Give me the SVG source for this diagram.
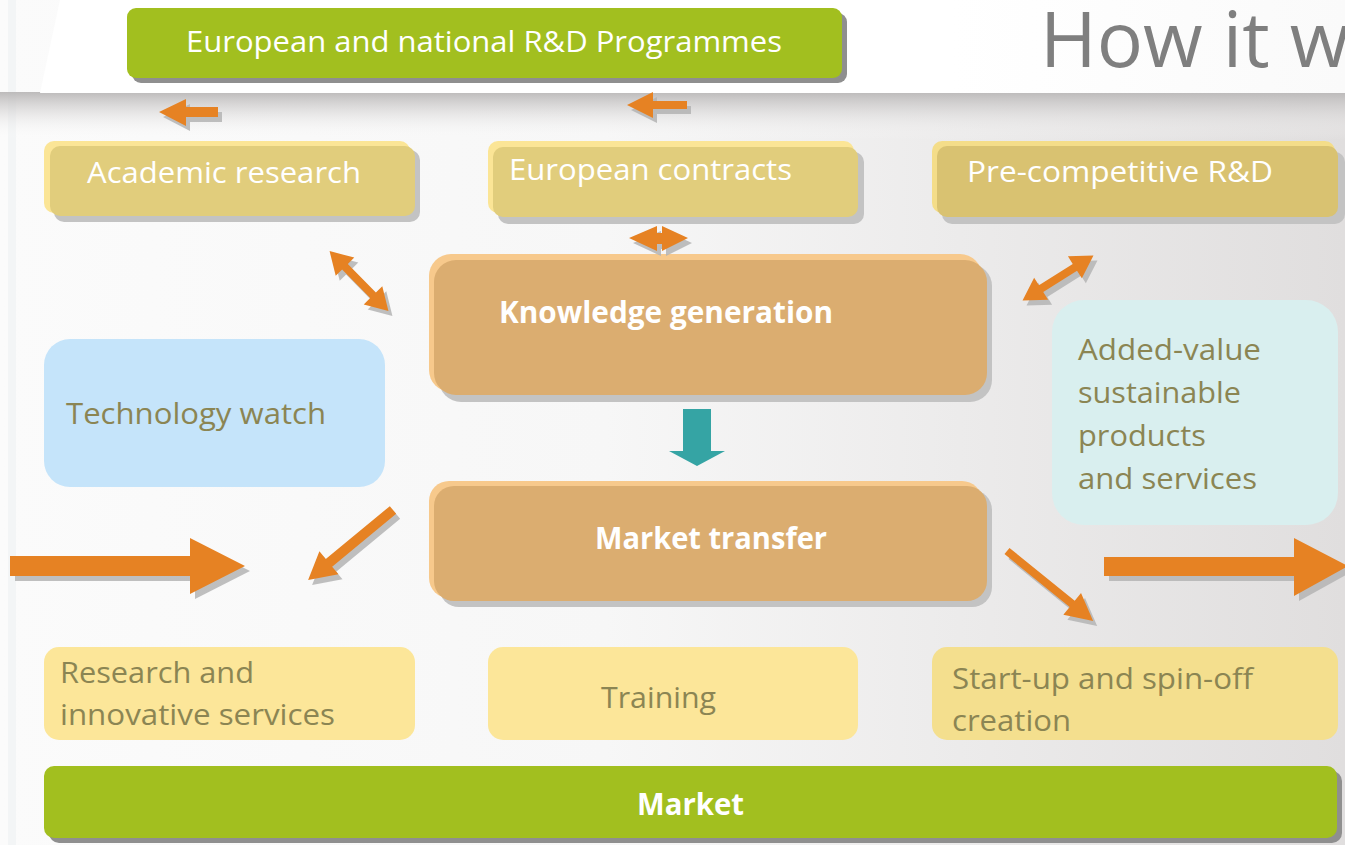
<svg xmlns="http://www.w3.org/2000/svg" width="1345" height="845" viewBox="0 0 1345 845">
<defs>
<linearGradient id="bg" x1="0" y1="0" x2="1" y2="0">
<stop offset="0" stop-color="#fbfbfb"/><stop offset="0.45" stop-color="#f7f7f7"/><stop offset="1" stop-color="#e0dede"/>
</linearGradient>
<linearGradient id="band" x1="0" y1="0" x2="0" y2="1">
<stop offset="0" stop-color="#b9b7b7" stop-opacity="0.95"/><stop offset="0.35" stop-color="#cfcdcd" stop-opacity="0.6"/><stop offset="1" stop-color="#ffffff" stop-opacity="0"/>
</linearGradient>
<linearGradient id="hdr" x1="0" y1="0" x2="1" y2="0">
<stop offset="0" stop-color="#ffffff"/><stop offset="0.7" stop-color="#ffffff"/><stop offset="1" stop-color="#fafafa"/>
</linearGradient>
<style>
.t{font-family:"Open Sans","Noto Sans","Liberation Sans",sans-serif;font-size:30px}
.w{fill:#ffffff}
.o{fill:#8b8553}
.b{font-weight:bold}
.arr{fill:#e68223}
.sh{fill:#b4b4b4;opacity:0.85}
.boxsh{fill:#c3c3c3}
.ylight{fill:#fbe596}
.ymain{fill:#e1cd7c}
.olight{fill:#f7c98c}
.omain{fill:#dbad70}
.green{fill:#a2bf1f}
.gsh{fill:#8f8f8f}
.pale{fill:#fce699}
</style>
</defs>

<!-- background -->
<rect x="0" y="0" width="1345" height="845" fill="url(#bg)"/>
<rect x="8" y="0" width="8" height="845" fill="#eef2f4" opacity="0.6"/>
<rect x="0" y="92" width="1345" height="48" fill="url(#band)"/>
<polygon points="60,0 1345,0 1345,93 40,93" fill="url(#hdr)"/>

<text x="1040" y="67" font-family="'Open Sans','Noto Sans','Liberation Sans',sans-serif" font-size="77" fill="#7f7f7f">How it w</text>

<g id="rd-programmes">
<rect x="132" y="13" width="715" height="70" rx="9" class="gsh"/>
<rect x="127" y="8" width="715" height="70" rx="9" class="green"/>
<text x="186" y="52" class="t w" textLength="596" lengthAdjust="spacingAndGlyphs">European and national R&amp;D Programmes</text>
</g>

<g id="academic-research">
<rect x="54" y="150" width="366" height="72" rx="10" class="boxsh"/>
<rect x="44" y="141" width="366" height="72" rx="10" class="ylight"/>
<rect x="50" y="146" width="365" height="70" rx="10" class="ymain"/>
<text x="87" y="183" class="t w" textLength="274" lengthAdjust="spacingAndGlyphs">Academic research</text>
</g>

<g id="european-contracts">
<rect x="498" y="152" width="366" height="72" rx="10" class="boxsh"/>
<rect x="488" y="141" width="366" height="72" rx="10" class="ylight"/>
<rect x="493" y="147" width="365" height="70" rx="10" class="ymain"/>
<text x="509" y="180" class="t w" textLength="283" lengthAdjust="spacingAndGlyphs">European contracts</text>
</g>

<g id="pre-competitive">
<rect x="942" y="152" width="403" height="72" rx="10" class="boxsh"/>
<rect x="932" y="141" width="403" height="72" rx="10" fill="#f4dd89"/>
<rect x="937" y="146" width="401" height="71" rx="10" fill="#d9c271"/>
<text x="967" y="182" class="t w" textLength="306" lengthAdjust="spacingAndGlyphs">Pre-competitive R&amp;D</text>
</g>

<g id="knowledge-generation">
<rect x="439" y="264" width="553" height="138" rx="22" class="boxsh"/>
<rect x="429" y="254" width="553" height="138" rx="22" class="olight"/>
<rect x="434" y="260" width="553" height="135" rx="22" class="omain"/>
<text x="499" y="323" class="t w b" textLength="334" lengthAdjust="spacingAndGlyphs">Knowledge generation</text>
</g>

<g id="market-transfer">
<rect x="439" y="490" width="553" height="117" rx="20" class="boxsh"/>
<rect x="429" y="481" width="553" height="117" rx="20" class="olight"/>
<rect x="434" y="486" width="553" height="115" rx="20" class="omain"/>
<text x="595" y="549" class="t w b" textLength="232" lengthAdjust="spacingAndGlyphs">Market transfer</text>
</g>

<g id="technology-watch">
<rect x="44" y="339" width="341" height="148" rx="26" fill="#c5e4fa"/>
<text x="66" y="424" class="t o" textLength="260" lengthAdjust="spacingAndGlyphs">Technology watch</text>
</g>

<g id="added-value">
<rect x="1052" y="300" width="286" height="225" rx="32" fill="#d9efef"/>
<text x="1078" y="360" class="t o" textLength="183" lengthAdjust="spacingAndGlyphs">Added-value</text>
<text x="1078" y="403" class="t o" textLength="163" lengthAdjust="spacingAndGlyphs">sustainable</text>
<text x="1078" y="446" class="t o" textLength="128" lengthAdjust="spacingAndGlyphs">products</text>
<text x="1078" y="489" class="t o" textLength="179" lengthAdjust="spacingAndGlyphs">and services</text>
</g>

<g id="research-services">
<rect x="44" y="647" width="371" height="93" rx="15" class="pale"/>
<text x="60" y="683" class="t o" textLength="194" lengthAdjust="spacingAndGlyphs">Research and</text>
<text x="60" y="725" class="t o" textLength="275" lengthAdjust="spacingAndGlyphs">innovative services</text>
</g>

<g id="training">
<rect x="488" y="647" width="370" height="93" rx="15" class="pale"/>
<text x="601" y="708" class="t o" textLength="115" lengthAdjust="spacingAndGlyphs">Training</text>
</g>

<g id="startup">
<rect x="932" y="647" width="406" height="93" rx="15" fill="#f4df8e"/>
<text x="952" y="689" class="t o" textLength="301" lengthAdjust="spacingAndGlyphs">Start-up and spin-off</text>
<text x="952" y="731" class="t o" textLength="119" lengthAdjust="spacingAndGlyphs">creation</text>
</g>

<g id="market">
<rect x="49" y="771" width="1293" height="72" rx="10" class="gsh"/>
<rect x="44" y="766" width="1293" height="72" rx="10" class="green"/>
<text x="637" y="815" class="t w b" textLength="107" lengthAdjust="spacingAndGlyphs">Market</text>
</g>

<g id="connectors">
<!-- small left arrows -->
<g transform="translate(4,5)" class="sh">
<polygon points="159,112 186,99 186,107 218,107 218,117 186,117 186,126"/>
<polygon points="627,105 653,92 653,101 687,101 687,109 653,109 653,118"/>
<polygon points="629,238 657,226 657,233 662,233 662,226 688,238 662,251 662,244 657,244 657,251"/>
</g>
<polygon class="arr" points="159,112 186,99 186,107 218,107 218,117 186,117 186,126"/>
<polygon class="arr" points="627,105 653,92 653,101 687,101 687,109 653,109 653,118"/>
<polygon class="arr" points="629,238 657,226 657,233 662,233 662,226 688,238 662,251 662,244 657,244 657,251"/>

<!-- diagonal double arrows -->
<g transform="translate(363,286) rotate(45.5)"><polygon class="sh" points="-42,0 -20,-13 -20,-4 20,-4 20,-13 42,0 20,13 20,4 -20,4 -20,13"/></g>
<g transform="translate(359,281) rotate(45.5)"><polygon class="arr" points="-42,0 -20,-13 -20,-4 20,-4 20,-13 42,0 20,13 20,4 -20,4 -20,13"/></g>
<g transform="translate(1062,283) rotate(-32.4)"><polygon class="sh" points="-42,0 -20,-13 -20,-4 20,-4 20,-13 42,0 20,13 20,4 -20,4 -20,13"/></g>
<g transform="translate(1058,278) rotate(-32.4)"><polygon class="arr" points="-42,0 -20,-13 -20,-4 20,-4 20,-13 42,0 20,13 20,4 -20,4 -20,13"/></g>

<!-- single diagonal arrows -->
<g transform="translate(397,515) rotate(140.5)"><polygon class="sh" points="0,-5 83,-5 83,-15 110,0 83,15 83,5 0,5"/></g>
<g transform="translate(393,510) rotate(140.5)"><polygon class="arr" points="0,-5 83,-5 83,-15 110,0 83,15 83,5 0,5"/></g>
<g transform="translate(1011,556) rotate(39.1)"><polygon class="sh" points="0,-4 84,-4 84,-14 111,0 84,14 84,4 0,4"/></g>
<g transform="translate(1007,551) rotate(39.1)"><polygon class="arr" points="0,-4 84,-4 84,-14 111,0 84,14 84,4 0,4"/></g>

<!-- big horizontal arrows -->
<g transform="translate(5,5)" class="sh">
<polygon points="10,556 190,556 190,538 245,566 190,594 190,576 10,576"/>
<polygon points="1104,557 1294,557 1294,538 1348,566 1294,596 1294,576 1104,576"/>
</g>
<polygon class="arr" points="10,556 190,556 190,538 245,566 190,594 190,576 10,576"/>
<polygon class="arr" points="1104,557 1294,557 1294,538 1348,566 1294,596 1294,576 1104,576"/>

<!-- teal down arrow -->
<polygon fill="#35a4a4" points="683,409 711,409 711,451 725,451 697,466 669,451 683,451"/>
</g>
</svg>
